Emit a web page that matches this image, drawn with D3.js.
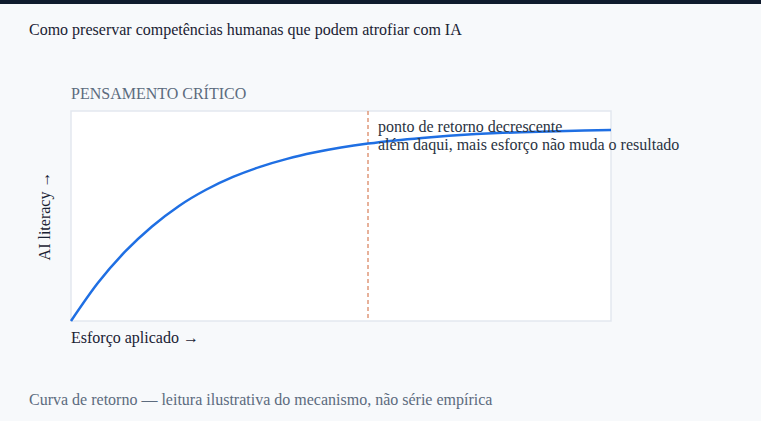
<!DOCTYPE html>
<html>
<head>
<meta charset="utf-8">
<script src="https://cdn.jsdelivr.net/npm/d3@7"></script>
<style>
  html, body { margin: 0; padding: 0; background: #f7f9fb; }
  svg { display: block; font-family: 'Liberation Serif', 'DejaVu Serif', serif; }
</style>
</head>
<body>
<script>
// effort (0-100) and AI literacy (0-100)
const effort = [0, 5, 10, 15, 20, 25, 30, 35, 40, 45, 50, 55, 60, 65, 70, 75, 80, 85, 90, 95, 100]
const literacy = [0, 18.2, 33.0, 45.0, 54.8, 62.5, 68.6, 73.4, 77.2, 80.2, 82.6, 84.5, 86.0, 87.2, 88.2, 89.0, 89.6, 90.0, 90.4, 90.7, 91.0]
const markerEffort = 55
const annotation = ['ponto de retorno decrescente', 'além daqui, mais esforço não muda o resultado']

const W = 761
const H = 421
const margin = { top: 111, right: 150, bottom: 100, left: 71 }
const width = W - margin.left - margin.right
const height = H - margin.top - margin.bottom

const svg = d3.select('body').append('svg')
  .attr('width', W)
  .attr('height', H)

svg.append('rect').attr('width', W).attr('height', H).attr('fill', '#f7f9fb')
svg.append('rect').attr('width', W).attr('height', 4).attr('fill', '#0f1b2d')

svg.append('text')
  .attr('x', 29).attr('y', 35)
  .attr('font-size', 16)
  .attr('fill', '#1a2233')
  .text('Como preservar competências humanas que podem atrofiar com IA')

svg.append('text')
  .attr('x', 71).attr('y', 99)
  .attr('font-size', 16)
  .attr('fill', '#5c6b7e')
  .text('PENSAMENTO CRÍTICO')

svg.append('text')
  .attr('x', 29).attr('y', 405)
  .attr('font-size', 16)
  .attr('fill', '#5c6b7e')
  .text('Curva de retorno — leitura ilustrativa do mecanismo, não série empírica')

const g = svg.append('g')
  .attr('transform', `translate(${margin.left}, ${margin.top})`)

const x = d3.scaleLinear().domain([0, 100]).range([0, width])
const y = d3.scaleLinear().domain([0, 100]).range([height, 0])

g.append('rect')
  .attr('width', width).attr('height', height)
  .attr('fill', '#ffffff')
  .attr('stroke', '#e3e8ef')
  .attr('stroke-width', 1.5)

g.append('line')
  .attr('x1', x(markerEffort)).attr('x2', x(markerEffort))
  .attr('y1', 0).attr('y2', height)
  .attr('stroke', '#e0987a')
  .attr('stroke-width', 1.5)
  .attr('stroke-dasharray', '4,3')

const line = d3.line()
  .x((d, i) => x(effort[i]))
  .y(d => y(d))
  .curve(d3.curveMonotoneX)

g.append('path')
  .datum(literacy)
  .attr('d', line)
  .attr('fill', 'none')
  .attr('stroke', '#1f6fe3')
  .attr('stroke-width', 2.5)

g.selectAll('.note').data(annotation).enter().append('text')
  .attr('class', 'note')
  .attr('x', x(markerEffort) + 10)
  .attr('y', (d, i) => 21 + i * 18)
  .attr('font-size', 16)
  .attr('fill', '#2a3342')
  .text(d => d)

g.append('text')
  .attr('x', 0).attr('y', height + 22)
  .attr('font-size', 16)
  .attr('fill', '#1a2233')
  .text('Esforço aplicado →')

g.append('text')
  .attr('transform', `translate(-21, ${height / 2}) rotate(-90)`)
  .attr('text-anchor', 'middle')
  .attr('font-size', 16)
  .attr('fill', '#1a2233')
  .text('AI literacy →')
</script>
</body>
</html>
